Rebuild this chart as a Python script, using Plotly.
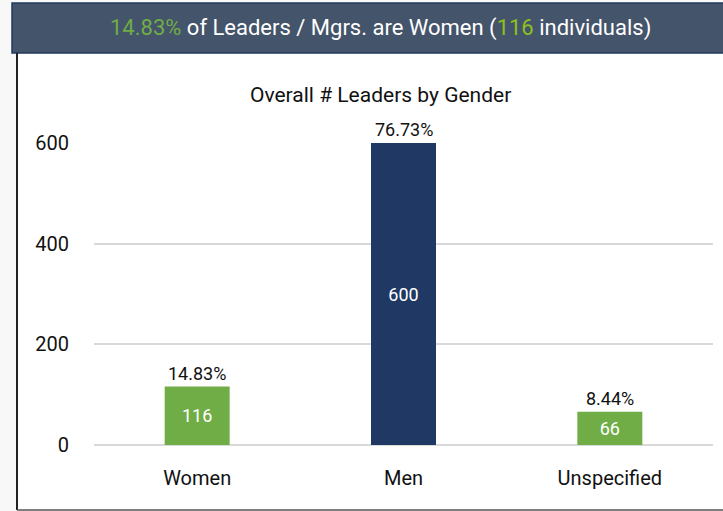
import plotly.graph_objects as go

# Data
categories = ["Women", "Men", "Unspecified"]
counts = [116, 600, 66]
bar_colors = ["#70ad47", "#203864", "#70ad47"]
y_ticks = [0, 200, 400, 600]

total = sum(counts)
shares = [c / total * 100 for c in counts]

font_main = "Roboto, sans-serif"

fig = go.Figure()

fig.add_trace(go.Bar(
    x=categories,
    y=counts,
    marker=dict(color=bar_colors, line=dict(width=0)),
    width=0.315,
    text=[str(c) for c in counts],
    textposition="inside",
    insidetextanchor="middle",
    textangle=0,
    insidetextfont=dict(color="white", size=18, family=font_main),
    cliponaxis=False,
    hoverinfo="skip",
))

# percentage labels above bars
for cat, c, s in zip(categories, counts, shares):
    fig.add_annotation(
        x=cat, y=c, text=f"{s:.2f}%", showarrow=False,
        yanchor="bottom", yshift=1,
        font=dict(size=18, color="#111", family=font_main),
    )

W, H = 723, 511
L, R, T, B = 94, 10, 143, 66
pw, ph = W - L - R, H - T - B


def px_x(x):
    return (x - L) / pw


def px_y(y):
    return (H - B - y) / ph


shapes = [
    # white chart panel
    dict(type="rect", xref="paper", yref="paper",
         x0=px_x(17), x1=px_x(730), y0=px_y(510), y1=px_y(53),
         fillcolor="white", line=dict(width=0), layer="below"),
    # header band
    dict(type="rect", xref="paper", yref="paper",
         x0=px_x(12), x1=px_x(730), y0=px_y(53), y1=px_y(3),
         fillcolor="#44546a", line=dict(color="#23395d", width=1.5),
         layer="below"),
    # frame left
    dict(type="line", xref="paper", yref="paper",
         x0=px_x(17), x1=px_x(17), y0=px_y(53), y1=px_y(510),
         line=dict(color="#222", width=2)),
    # frame bottom
    dict(type="line", xref="paper", yref="paper",
         x0=px_x(17), x1=px_x(730), y0=px_y(510), y1=px_y(510),
         line=dict(color="#555", width=1.5)),
]
fig.update_layout(shapes=shapes)

fig.add_annotation(
    xref="paper", yref="paper", x=px_x(380), y=px_y(28),
    text=("<span style='color:#70ad47'>14.83%</span> of Leaders / Mgrs. are Women "
          "(<span style='color:#8cc11f'>116</span> individuals)"),
    showarrow=False, xanchor="center", yanchor="middle",
    font=dict(size=22, color="white", family=font_main),
)

fig.add_annotation(
    xref="paper", yref="paper", x=px_x(380), y=px_y(95),
    text="Overall # Leaders by Gender", showarrow=False,
    xanchor="center", yanchor="middle",
    font=dict(size=21, color="#111", family=font_main),
)

fig.update_layout(
    width=W, height=H,
    margin=dict(l=L, r=R, t=T, b=B, pad=0),
    paper_bgcolor="#f8f8f8",
    plot_bgcolor="white",
    showlegend=False,
    font=dict(family=font_main, color="#111"),
    xaxis=dict(
        range=[-0.5, 2.5], showgrid=False, showline=False, zeroline=False,
        ticks="", tickfont=dict(size=20, color="#111"),
        ticklabelstandoff=19,
    ),
    yaxis=dict(
        range=[0, 600], tickvals=y_ticks, showgrid=True,
        gridcolor="#d9d9d9", gridwidth=1.5, zeroline=True,
        zerolinecolor="#d9d9d9", zerolinewidth=1.5, showline=False,
        ticks="", tickfont=dict(size=20, color="#111"),
        ticklabelstandoff=24,
    ),
)

fig.write_html("out.html", config={"displayModeBar": False},
               post_script="document.body.style.margin='0';")
